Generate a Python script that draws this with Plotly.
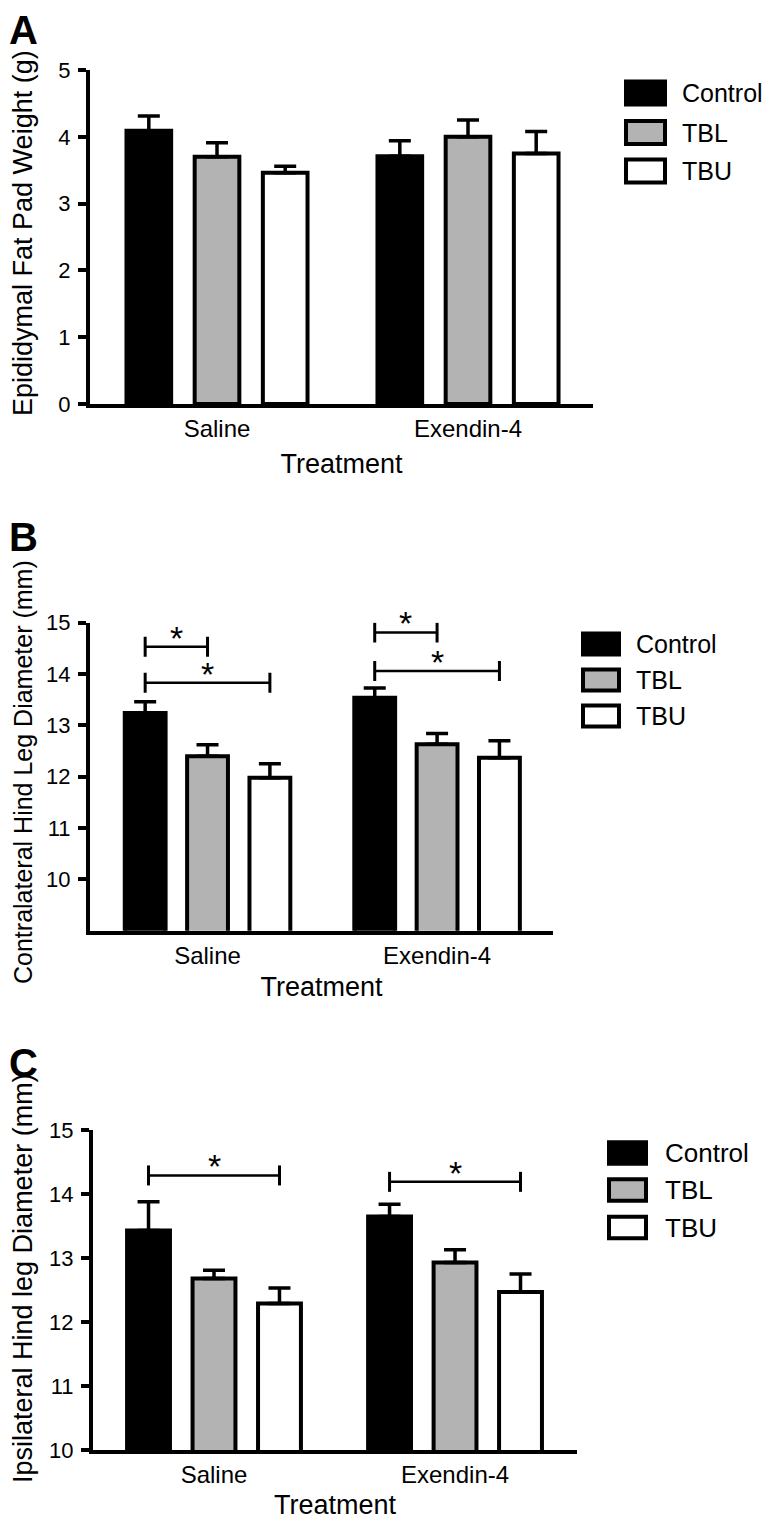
import plotly.graph_objects as go

# Reference canvas; the page adds an 8px body margin on every side
W, H = 773, 1528
OFF = 8
FW, FH = W - 2 * OFF, H - 2 * OFF
FONT = "Liberation Sans, Arial, Helvetica, sans-serif"

groups = ["Saline", "Exendin-4"]
series_names = ["Control", "TBL", "TBU"]
series_fills = ["#000000", "#b3b3b3", "#ffffff"]

# Panel A: Epididymal fat pad weight (g)
a_control = [4.09, 3.71]
a_control_err = [0.22, 0.23]
a_tbl = [3.70, 4.00]
a_tbl_err = [0.21, 0.25]
a_tbu = [3.46, 3.75]
a_tbu_err = [0.10, 0.33]
a_ticks = [0, 1, 2, 3, 4, 5]

# Panel B: Contralateral hind leg diameter (mm)
b_control = [13.24, 13.54]
b_control_err = [0.22, 0.19]
b_tbl = [12.40, 12.63]
b_tbl_err = [0.22, 0.21]
b_tbu = [11.98, 12.37]
b_tbu_err = [0.27, 0.33]
b_ticks = [10, 11, 12, 13, 14, 15]
# (group index, from series, to series, bracket level)
b_brackets = [(0, 0, 1, 14.53), (0, 0, 2, 13.83), (1, 0, 1, 14.81), (1, 0, 2, 14.06)]

# Panel C: Ipsilateral hind leg diameter (mm)
c_control = [13.43, 13.65]
c_control_err = [0.45, 0.19]
c_tbl = [12.68, 12.93]
c_tbl_err = [0.13, 0.20]
c_tbu = [12.29, 12.47]
c_tbu_err = [0.24, 0.28]
c_ticks = [10, 11, 12, 13, 14, 15]
c_brackets = [(0, 0, 2, 14.29), (1, 0, 2, 14.19)]

BARGAP = 0.185
BARGROUPGAP = 0.345
SLOT = (1 - BARGAP) / 3


def px(x):
    return (x - OFF) / FW


def py(y):
    return 1 - (y - OFF) / FH


panels = [
    dict(letter="A", means=[a_control, a_tbl, a_tbu], errs=[a_control_err, a_tbl_err, a_tbu_err],
         yrange=[0, 5], ticks=a_ticks, ytitle="Epididymal Fat Pad Weight (g)", ytitle_size=27,
         brackets=[], xstandoff=14,
         xdom=(90, 593), ydom=(404, 70), xrange=(-0.506, 1.498),
         letter_xy=(23, 30), ytitle_y=233,
         leg=dict(x0=624, x1=667, h=27, rows=[93, 132.5, 171], tx=680, size=25)),
    dict(letter="B", means=[b_control, b_tbl, b_tbu], errs=[b_control_err, b_tbl_err, b_tbu_err],
         yrange=[9, 15], ticks=b_ticks, ytitle="Contralateral Hind Leg Diameter (mm)", ytitle_size=25,
         brackets=b_brackets, xstandoff=11,
         xdom=(90, 553), ydom=(930.7, 622.7), xrange=(-0.512, 1.505),
         letter_xy=(23, 537), ytitle_y=772,
         leg=dict(x0=581, x1=621, h=25, rows=[644, 680, 716], tx=634, size=25)),
    dict(letter="C", means=[c_control, c_tbl, c_tbu], errs=[c_control_err, c_tbl_err, c_tbu_err],
         yrange=[10, 15], ticks=c_ticks, ytitle="Ipsilateral Hind leg Diameter (mm)", ytitle_size=27,
         brackets=c_brackets, xstandoff=17,
         xdom=(93, 577), ydom=(1450, 1130), xrange=(-0.502, 1.506),
         letter_xy=(23, 1063), ytitle_y=1278,
         leg=dict(x0=607, x1=648, h=25.5, rows=[1153, 1190, 1227.5], tx=663, size=26)),
]

fig = go.Figure()
shapes = []
annotations = []
layout = {}

for k, p in enumerate(panels):
    sfx = "" if k == 0 else str(k + 1)
    xa, ya = "x" + sfx, "y" + sfx
    for i in range(3):
        fig.add_trace(go.Bar(
            x=groups, y=p["means"][i], name=series_names[i],
            marker=dict(color=series_fills[i], line=dict(color="black", width=4)),
            error_y=dict(type="data", array=p["errs"][i], arrayminus=[0] * len(groups),
                         symmetric=False, color="black", thickness=3.5, width=11),
            xaxis=xa, yaxis=ya, showlegend=False,
        ))
    layout["xaxis" + sfx] = dict(
        domain=[px(p["xdom"][0]), px(p["xdom"][1])], anchor=ya, range=list(p["xrange"]),
        type="category", categoryorder="array", categoryarray=groups, automargin=False,
        showline=True, linewidth=4, linecolor="black", ticks="", showgrid=False, zeroline=False,
        tickfont=dict(size=24, color="black", family=FONT),
        title=dict(text="Treatment", font=dict(size=27, color="black", family=FONT),
                   standoff=p["xstandoff"]),
    )
    layout["yaxis" + sfx] = dict(
        domain=[py(p["ydom"][0]), py(p["ydom"][1])], anchor=xa, range=p["yrange"],
        tickmode="array", tickvals=p["ticks"], automargin=False,
        showline=True, linewidth=4, linecolor="black", ticks="outside", ticklen=8, tickwidth=4,
        tickcolor="black", showgrid=False, zeroline=False, ticklabelstandoff=3,
        tickfont=dict(size=22, color="black", family=FONT),
    )
    # y axis title
    annotations.append(dict(text=p["ytitle"], x=px(23), y=py(p["ytitle_y"]), xref="paper", yref="paper",
                            textangle=-90, showarrow=False, xanchor="center", yanchor="middle",
                            font=dict(size=p["ytitle_size"], color="black", family=FONT)))
    # panel letter
    annotations.append(dict(text="<b>%s</b>" % p["letter"], x=px(p["letter_xy"][0]), y=py(p["letter_xy"][1]),
                            xref="paper", yref="paper", showarrow=False, xanchor="center", yanchor="middle",
                            font=dict(size=40, color="black", family=FONT)))
    # significance brackets
    for (g, s0, s1, level) in p["brackets"]:
        x0 = g + (s0 - 1) * SLOT
        x1 = g + (s1 - 1) * SLOT
        shapes.append(dict(type="line", xref=xa, yref=ya, x0=x0, x1=x1, y0=level, y1=level,
                           line=dict(color="black", width=2.5)))
        for xv in (x0, x1):
            shapes.append(dict(type="line", xref=xa, yref=ya, ysizemode="pixel", yanchor=level,
                               x0=xv, x1=xv, y0=-10, y1=10, line=dict(color="black", width=3)))
        annotations.append(dict(text="*", x=(x0 + x1) / 2, y=level, xref=xa, yref=ya, showarrow=False,
                                xanchor="center", yanchor="middle", yshift=9,
                                font=dict(size=34, color="black", family=FONT)))
    # legend
    lg = p["leg"]
    for i, yc in enumerate(lg["rows"]):
        shapes.append(dict(type="rect", xref="paper", yref="paper",
                           x0=px(lg["x0"] + 2), x1=px(lg["x1"] - 2),
                           y0=py(yc + lg["h"] / 2 - 2), y1=py(yc - lg["h"] / 2 + 2),
                           fillcolor=series_fills[i], line=dict(color="black", width=4)))
        annotations.append(dict(text=series_names[i], x=px(lg["tx"]), y=py(yc), xref="paper", yref="paper",
                                showarrow=False, xanchor="left", yanchor="middle",
                                font=dict(size=lg["size"], color="black", family=FONT)))

fig.update_layout(
    width=FW, height=FH, autosize=False,
    margin=dict(l=0, r=0, t=0, b=0, pad=0, autoexpand=False),
    paper_bgcolor="white", plot_bgcolor="white",
    barmode="group", bargap=BARGAP, bargroupgap=BARGROUPGAP,
    font=dict(family=FONT, color="black"),
    shapes=shapes, annotations=annotations, showlegend=False,
    **layout,
)

fig.write_html("out.html")
